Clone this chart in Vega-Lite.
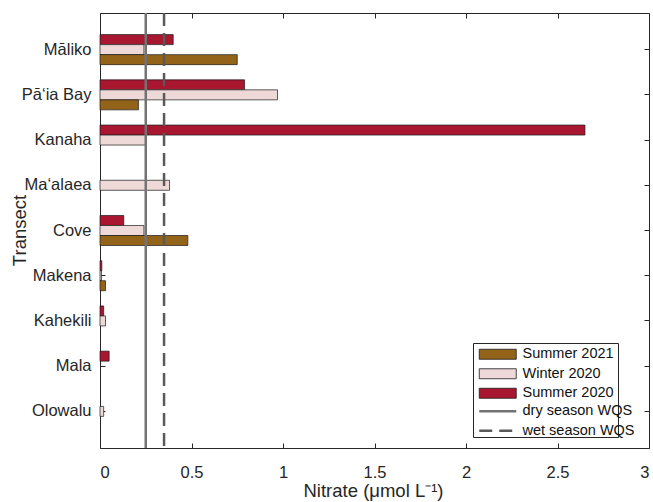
{
  "$schema": "https://vega.github.io/schema/vega-lite/v6.json",
  "width": 549,
  "height": 435,
  "autosize": "none",
  "padding": {"left": 100, "top": 13, "right": 4, "bottom": 54},
  "background": "white",
  "config": {
    "font": "Liberation Sans",
    "view": {"stroke": "#262626", "strokeWidth": 1},
    "axis": {"labelFont": "Liberation Sans", "titleFont": "Liberation Sans", "labelColor": "#262626", "titleColor": "#262626", "tickColor": "#262626", "labelFontSize": 16.5, "titleFontSize": 18.5, "titleFontWeight": "normal", "grid": false, "domain": false, "tickSize": -5, "tickWidth": 1}
  },
  "datasets": {
    "bars": [
      {"transect": "Māliko", "series": "Summer 2020", "value": 0.40},
      {"transect": "Māliko", "series": "Winter 2020", "value": 0.24},
      {"transect": "Māliko", "series": "Summer 2021", "value": 0.75},
      {"transect": "Pā‘ia Bay", "series": "Summer 2020", "value": 0.79},
      {"transect": "Pā‘ia Bay", "series": "Winter 2020", "value": 0.97},
      {"transect": "Pā‘ia Bay", "series": "Summer 2021", "value": 0.21},
      {"transect": "Kanaha", "series": "Summer 2020", "value": 2.65},
      {"transect": "Kanaha", "series": "Winter 2020", "value": 0.25},
      {"transect": "Ma‘alaea", "series": "Winter 2020", "value": 0.38},
      {"transect": "Cove", "series": "Summer 2020", "value": 0.13},
      {"transect": "Cove", "series": "Winter 2020", "value": 0.24},
      {"transect": "Cove", "series": "Summer 2021", "value": 0.48},
      {"transect": "Makena", "series": "Summer 2020", "value": 0.01},
      {"transect": "Makena", "series": "Winter 2020", "value": 0.008},
      {"transect": "Makena", "series": "Summer 2021", "value": 0.03},
      {"transect": "Kahekili", "series": "Summer 2020", "value": 0.02},
      {"transect": "Kahekili", "series": "Winter 2020", "value": 0.03},
      {"transect": "Mala", "series": "Summer 2020", "value": 0.05},
      {"transect": "Olowalu", "series": "Winter 2020", "value": 0.02}
    ],
    "wqs": [
      {"series": "dry season WQS", "x": 0.25},
      {"series": "wet season WQS", "x": 0.35}
    ]
  },
  "layer": [
    {
      "data": {"name": "bars"},
      "mark": {"type": "bar", "stroke": "#1a1a1a", "strokeWidth": 0.7, "opacity": 1},
      "encoding": {
        "y": {"field": "transect", "type": "nominal", "sort": ["Māliko", "Pā‘ia Bay", "Kanaha", "Ma‘alaea", "Cove", "Makena", "Kahekili", "Mala", "Olowalu"],
          "scale": {"paddingInner": 0, "paddingOuter": 0.31},
          "axis": {"orient": "left", "title": "Transect", "labelPadding": 14, "titleX": -75, "titleY": 217, "titleBaseline": "alphabetic", "titleAlign": "center", "titleAngle": 270}},
        "yOffset": {"field": "series", "type": "nominal", "sort": ["Summer 2020", "Winter 2020", "Summer 2021"], "scale": {"paddingInner": 0, "paddingOuter": 0.76}},
        "x": {"field": "value", "type": "quantitative", "scale": {"domain": [0, 3], "nice": false, "zero": true},
          "axis": {"orient": "bottom", "values": [0, 0.5, 1, 1.5, 2, 2.5, 3], "format": "~g", "title": "Nitrate (μmol L⁻¹)", "labelPadding": 21, "titleX": 203, "titleY": 48, "titleAlign": "left", "titleBaseline": "alphabetic"}},
        "fill": {"field": "series", "type": "nominal",
          "scale": {"domain": ["Summer 2021", "Winter 2020", "Summer 2020"], "range": ["#94631a", "#eed8d8", "#a8162f"]},
          "legend": {
            "title": ["                                        ", " "], "titleOrient": "bottom", "titleFontSize": 14.5, "titleLineHeight": 18.5, "titlePadding": 1, "titleLimit": 400,
            "orient": "none", "legendX": 373, "legendY": 330,
            "strokeColor": "#262626", "fillColor": "white", "padding": 4,
            "labelFont": "Liberation Sans", "labelFontSize": 14.5, "labelColor": "#111111",
            "symbolSize": 100, "labelOffset": 31, "rowPadding": 4.5, "symbolOpacity": 1,
            "symbolType": "M-1,-1H6.4V1H-1Z", "symbolStrokeColor": "#1a1a1a", "symbolStrokeWidth": 0.8
          }}
      }
    },
    {
      "data": {"name": "wqs"},
      "mark": {"type": "rule", "strokeWidth": 2.5},
      "encoding": {
        "x": {"field": "x", "type": "quantitative", "axis": {"orient": "top", "labels": false, "title": null, "values": [0, 0.5, 1, 1.5, 2, 2.5, 3]}},
        "stroke": {"field": "series", "type": "nominal",
          "scale": {"domain": ["dry season WQS", "wet season WQS"], "range": ["#737373", "#595959"]},
          "legend": {
            "title": null, "orient": "none", "legendX": 373, "legendY": 387, "padding": 4,
            "labelFont": "Liberation Sans", "labelFontSize": 14.5, "labelColor": "#111111",
            "symbolSize": 100, "labelOffset": 31, "rowPadding": 4.5, "symbolOpacity": 1,
            "symbolType": "M-1,0H6.4", "symbolStrokeWidth": 2.5
          }},
        "strokeDash": {"field": "series", "type": "nominal",
          "scale": {"domain": ["dry season WQS", "wet season WQS"], "range": [[1, 0], [13, 7]]},
          "legend": {
            "title": null, "orient": "none", "legendX": 373, "legendY": 387, "padding": 4,
            "labelFont": "Liberation Sans", "labelFontSize": 14.5, "labelColor": "#111111",
            "symbolSize": 100, "labelOffset": 31, "rowPadding": 4.5, "symbolOpacity": 1,
            "symbolType": "M-1,0H6.4", "symbolStrokeWidth": 2.5
          }}
      }
    },
    {
      "data": {"name": "bars"},
      "mark": {"type": "bar", "opacity": 0},
      "encoding": {
        "y": {"field": "transect", "type": "nominal", "sort": ["Māliko", "Pā‘ia Bay", "Kanaha", "Ma‘alaea", "Cove", "Makena", "Kahekili", "Mala", "Olowalu"], "axis": {"orient": "right", "labels": false, "title": null}},
        "x": {"field": "value", "type": "quantitative", "axis": null}
      }
    }
  ],
  "resolve": {"axis": {"x": "independent", "y": "independent"}}
}
